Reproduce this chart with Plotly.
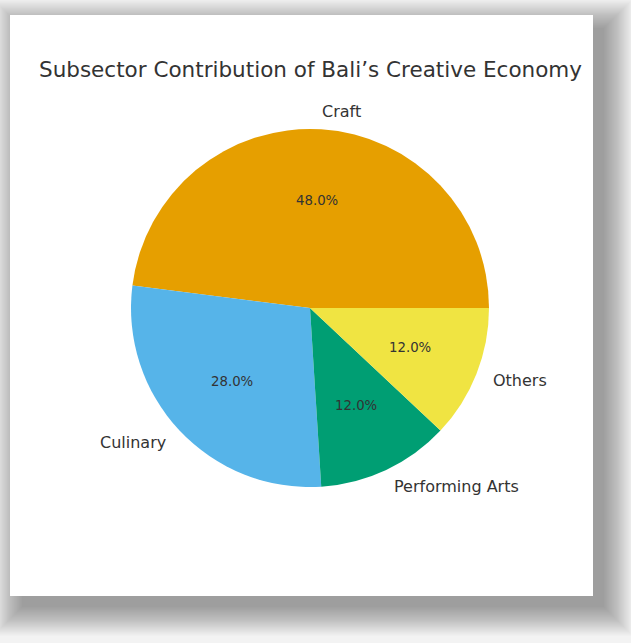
import math
import plotly.graph_objects as go

labels = ["Craft", "Culinary", "Performing Arts", "Others"]
values = [48, 28, 12, 12]
colors = ["#E69F00", "#56B4E9", "#009E73", "#F0E442"]
title = "Subsector Contribution of Bali\u2019s Creative Economy"

W, H = 631, 643
CX, CY, R = 310, 308, 179  # pie centre / radius in pixels

def px(x):
    return x / W

def py(y):
    return 1 - y / H

shapes = []
# soft drop shadow behind the card
N = 24
spread = 30.0
core = (22, 28, 604, 607)
for k in range(N):
    e = k * spread / N
    shapes.append(dict(type="rect", xref="paper", yref="paper",
                       x0=px(core[0] - e), x1=px(core[2] + e),
                       y0=py(core[3] + e), y1=py(core[1] - e),
                       fillcolor="rgba(0,0,0,0.017)", line=dict(width=0), layer="below"))
# white card
shapes.append(dict(type="rect", xref="paper", yref="paper",
                   x0=px(10), x1=px(593), y0=py(596), y1=py(15),
                   fillcolor="white", line=dict(width=0), layer="below"))

total = sum(values)
# plotly (counterclockwise): first slice spans clockwise from `rotation`;
# choose rotation so the first slice starts at 3 o'clock going counterclockwise
rotation = 90 - 360 * values[0] / total

fig = go.Figure(go.Pie(
    labels=labels, values=values, sort=False, direction="counterclockwise",
    rotation=rotation, marker=dict(colors=colors, line=dict(width=0)),
    textinfo="none", hoverinfo="label+percent", showlegend=False,
    domain=dict(x=[px(CX - R), px(CX + R)], y=[py(CY + R), py(CY - R)]),
))

annotations = []
start = 0.0
for lab, v in zip(labels, values):
    frac = v / total
    mid = (start + frac / 2) * 2 * math.pi
    start += frac
    c, s = math.cos(mid), math.sin(mid)
    # outside label
    lx, ly = CX + 1.1 * R * c, CY - 1.1 * R * s
    annotations.append(dict(x=px(lx), y=py(ly), xref="paper", yref="paper",
                            text=lab, showarrow=False,
                            xanchor="left" if c > 0 else "right", yanchor="middle",
                            xshift=-2 if c > 0 else 2,
                            font=dict(family="DejaVu Sans", size=16, color="#333333")))
    # percentage inside
    tx, ty = CX + 0.6 * R * c, CY - 0.6 * R * s
    annotations.append(dict(x=px(tx), y=py(ty), xref="paper", yref="paper",
                            text=f"{frac * 100:.1f}%", showarrow=False,
                            xanchor="center", yanchor="middle",
                            font=dict(family="DejaVu Sans", size=13.3, color="#333333")))

annotations.append(dict(x=px(310), y=py(69), xref="paper", yref="paper",
                        text=title, showarrow=False, xanchor="center", yanchor="middle",
                        font=dict(family="DejaVu Sans", size=21.5, color="#333333")))

fig.update_layout(
    width=W, height=H, autosize=False,
    margin=dict(l=0, r=0, t=0, b=0),
    paper_bgcolor="#f3f3f3", plot_bgcolor="#f3f3f3",
    shapes=shapes, annotations=annotations,
)

fig.write_html("out.html")
